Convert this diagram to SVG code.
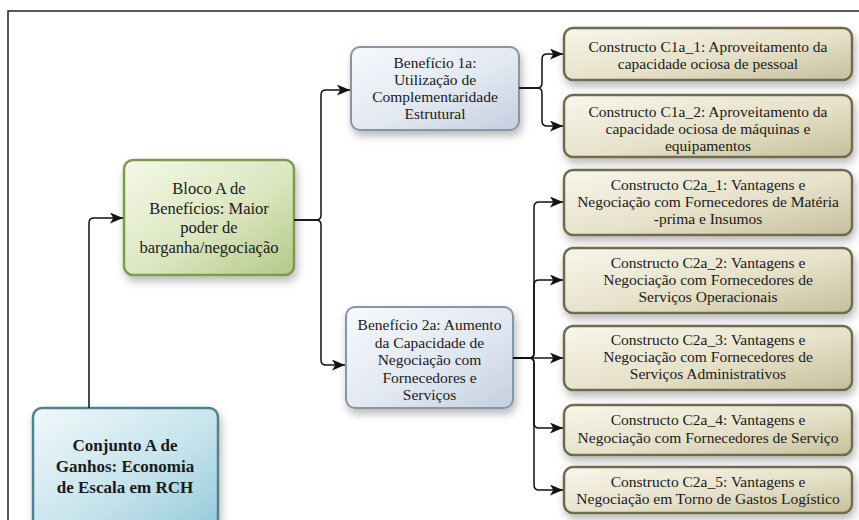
<svg xmlns="http://www.w3.org/2000/svg" width="859" height="520" viewBox="0 0 859 520">
<defs>
<linearGradient id="gC" x1="0" y1="0" x2="1" y2="1"><stop offset="0" stop-color="#f8f6ec"/><stop offset="0.55" stop-color="#e6e1c9"/><stop offset="1" stop-color="#c6bf9b"/></linearGradient>
<linearGradient id="gB" x1="0" y1="0" x2="1" y2="1"><stop offset="0" stop-color="#f7f9fc"/><stop offset="0.55" stop-color="#e2e8f1"/><stop offset="1" stop-color="#c3cfe0"/></linearGradient>
<linearGradient id="gG" x1="0" y1="0" x2="1" y2="1"><stop offset="0" stop-color="#f5f8e8"/><stop offset="0.55" stop-color="#dbe6bf"/><stop offset="1" stop-color="#b3c888"/></linearGradient>
<linearGradient id="gT" x1="0" y1="0" x2="1" y2="1"><stop offset="0" stop-color="#f0f8fb"/><stop offset="0.55" stop-color="#c6e3ec"/><stop offset="1" stop-color="#92c8d9"/></linearGradient>
<filter id="sh" x="-10%" y="-10%" width="125%" height="140%"><feDropShadow dx="2" dy="5" stdDeviation="4" flood-color="#000" flood-opacity="0.28"/></filter>
<marker id="ar" viewBox="0 0 12 10" refX="12" refY="5" markerWidth="13" markerHeight="11" markerUnits="userSpaceOnUse" orient="auto"><path d="M0,0 L12,5 L0,10 L3,5 Z" fill="#111"/></marker>
</defs>
<style>
text{font-family:'Liberation Serif','DejaVu Serif',serif;fill:#1a1a1a;text-anchor:middle}
.c rect{fill:url(#gC);stroke:#6f6b4f;stroke-width:2.5}
.c text{font-size:15.5px}
.b rect{fill:url(#gB);stroke:#8795a8;stroke-width:2}
.b text{font-size:15.5px}
.g rect{fill:url(#gG);stroke:#7e9a50;stroke-width:2.5}
.g text{font-size:16.5px}
.k rect{fill:url(#gT);stroke:#4f8290;stroke-width:2.5}
.k text{font-size:17px;font-weight:bold}
.ln{fill:none;stroke:#111;stroke-width:1.5}
</style>
<rect x="0" y="0" width="859" height="520" fill="#fff"/>
<path d="M8 520 V11 H859" fill="none" stroke="#222" stroke-width="1.5"/>

<g id="conjuntoA" class="k" font-family="Liberation Serif, serif">
<rect x="33" y="408" width="185" height="130" rx="9" filter="url(#sh)"/>
<text x="125" y="451">Conjunto A de</text>
<text x="125" y="472">Ganhos: Economia</text>
<text x="125" y="493">de Escala em RCH</text>
</g>

<g id="blocoA" class="g" font-family="Liberation Serif, serif">
<rect x="124" y="160" width="170" height="115" rx="9" filter="url(#sh)"/>
<text x="209" y="194">Bloco A de</text>
<text x="209" y="213.5">Benefícios: Maior</text>
<text x="209" y="233">poder de</text>
<text x="209" y="252.5">barganha/negociação</text>
</g>

<g id="beneficio1a" class="b" font-family="Liberation Serif, serif">
<rect x="351" y="47" width="168" height="83" rx="9" filter="url(#sh)"/>
<text x="435" y="68">Benefício 1a:</text>
<text x="435" y="85">Utilização de</text>
<text x="435" y="102">Complementaridade</text>
<text x="435" y="119">Estrutural</text>
</g>

<g id="beneficio2a" class="b" font-family="Liberation Serif, serif">
<rect x="346" y="307" width="167" height="101" rx="9" filter="url(#sh)"/>
<text x="429.5" y="330">Benefício 2a: Aumento</text>
<text x="429.5" y="347.5">da Capacidade de</text>
<text x="429.5" y="365">Negociação com</text>
<text x="429.5" y="382.5">Fornecedores e</text>
<text x="429.5" y="400">Serviços</text>
</g>

<g id="c1a_1" class="c" font-family="Liberation Serif, serif">
<rect x="564" y="28" width="288" height="52" rx="9" filter="url(#sh)"/>
<text x="708" y="52">Constructo C1a_1: Aproveitamento da</text>
<text x="708" y="69">capacidade ociosa de pessoal</text>
</g>

<g id="c1a_2" class="c" font-family="Liberation Serif, serif">
<rect x="564" y="95" width="288" height="62" rx="9" filter="url(#sh)"/>
<text x="708" y="117">Constructo C1a_2: Aproveitamento da</text>
<text x="708" y="134">capacidade ociosa de máquinas e</text>
<text x="708" y="151">equipamentos</text>
</g>

<g id="c2a_1" class="c" font-family="Liberation Serif, serif">
<rect x="564" y="170" width="288" height="65" rx="9" filter="url(#sh)"/>
<text x="708" y="190">Constructo C2a_1: Vantagens e</text>
<text x="708" y="207">Negociação com Fornecedores de Matéria</text>
<text x="708" y="224">-prima e Insumos</text>
</g>

<g id="c2a_2" class="c" font-family="Liberation Serif, serif">
<rect x="564" y="248" width="288" height="65" rx="9" filter="url(#sh)"/>
<text x="708" y="268">Constructo C2a_2: Vantagens e</text>
<text x="708" y="285">Negociação com Fornecedores de</text>
<text x="708" y="302">Serviços Operacionais</text>
</g>

<g id="c2a_3" class="c" font-family="Liberation Serif, serif">
<rect x="564" y="326" width="288" height="64" rx="9" filter="url(#sh)"/>
<text x="708" y="345">Constructo C2a_3: Vantagens e</text>
<text x="708" y="362">Negociação com Fornecedores de</text>
<text x="708" y="379">Serviços Administrativos</text>
</g>

<g id="c2a_4" class="c" font-family="Liberation Serif, serif">
<rect x="564" y="405" width="288" height="50" rx="9" filter="url(#sh)"/>
<text x="708" y="425">Constructo C2a_4: Vantagens e</text>
<text x="708" y="443">Negociação com Fornecedores de Serviço</text>
</g>

<g id="c2a_5" class="c" font-family="Liberation Serif, serif">
<rect x="564" y="467" width="288" height="46" rx="9" filter="url(#sh)"/>
<text x="708" y="487">Constructo C2a_5: Vantagens e</text>
<text x="708" y="504">Negociação em Torno de Gastos Logístico</text>
</g>

<g id="connectors" class="ln">
<path d="M89 408 V223 Q89 218 94 218 H123" marker-end="url(#ar)"/>
<path d="M294 220 H316 Q321 220 321 215 V95 Q321 90 326 90 H350" marker-end="url(#ar)"/>
<path d="M294 220 H316 Q321 220 321 225 V360 Q321 365 326 365 H345" marker-end="url(#ar)"/>
<path d="M519 88 H537 Q542 88 542 83 V59 Q542 54 547 54 H563" marker-end="url(#ar)"/>
<path d="M519 88 H537 Q542 88 542 93 V121 Q542 126 547 126 H563" marker-end="url(#ar)"/>
<path d="M513 358 H529 Q534 358 534 353 V207 Q534 202 539 202 H563" marker-end="url(#ar)"/>
<path d="M513 358 H529 Q534 358 534 353 V285 Q534 280 539 280 H563" marker-end="url(#ar)"/>
<path d="M513 358 H563" marker-end="url(#ar)"/>
<path d="M513 358 H529 Q534 358 534 363 V423 Q534 428 539 428 H563" marker-end="url(#ar)"/>
<path d="M513 358 H529 Q534 358 534 363 V485 Q534 490 539 490 H563" marker-end="url(#ar)"/>
</g>
</svg>
